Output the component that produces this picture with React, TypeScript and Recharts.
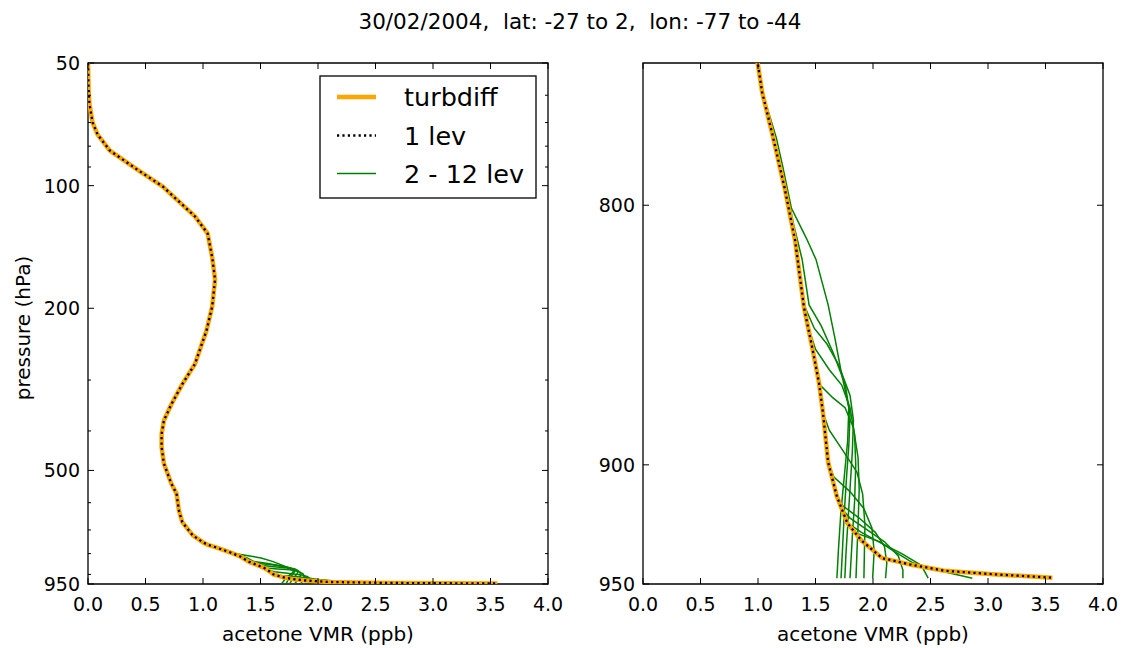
import React from "react";
import { ScatterChart, Scatter, XAxis, YAxis, ReferenceArea, Label } from "recharts";

// profiles as [acetone VMR (ppb), pressure (hPa)]
const turbdiff: [number, number][] = [
  [0.0, 50], [0.005, 58], [0.0125, 63], [0.04, 70], [0.084, 75], [0.19, 82], [0.41, 90.6],
  [0.65, 100.5], [0.93, 119], [1.04, 131], [1.08, 150], [1.105, 170], [1.08, 198], [1.03, 227],
  [0.93, 274], [0.82, 307], [0.725, 344], [0.66, 377], [0.64, 407], [0.64, 438], [0.66, 481],
  [0.725, 539], [0.77, 570], [0.79, 626], [0.82, 670], [0.91, 721], [0.997, 750], [1.036, 760],
  [1.127, 775], [1.233, 794], [1.323, 813], [1.4, 838], [1.47, 853], [1.53, 867], [1.565, 879],
  [1.61, 899], [1.686, 913], [1.776, 924], [1.897, 931.3], [2.08, 938.9], [2.32, 941.6],
  [2.62, 944.3], [3.075, 945.9], [3.56, 947.3],
];

// 1 lev run lies on top of turbdiff at this scale
const oneLev = turbdiff;

// lower part of the 2..12 lev runs, first point is where they leave turbdiff
const lev2: [number, number][] = [[1.84, 928], [1.95, 930], [2.06, 932], [2.15, 935], [2.35, 941], [2.6, 944.5], [2.864, 947.5]];
const lev3: [number, number][] = [[1.776, 924], [1.9, 928], [2.05, 932], [2.25, 937], [2.42, 942], [2.48, 947.5]];
const lev4: [number, number][] = [[1.727, 918], [1.8, 922], [1.95, 927], [2.1, 932], [2.22, 938], [2.26, 944], [2.26, 947.5]];
const lev5: [number, number][] = [[1.686, 913], [1.74, 917], [1.88, 922], [2.02, 928], [2.1, 934], [2.12, 941], [2.109, 947.5]];
const lev6: [number, number][] = [[1.61, 899], [1.66, 905], [1.8, 911], [1.92, 918], [1.99, 926], [2.01, 936], [1.997, 947.5]];
const lev7: [number, number][] = [[1.565, 879], [1.62, 886], [1.75, 895], [1.86, 903], [1.91, 912], [1.93, 925], [1.925, 937], [1.921, 947.5]];
const lev8: [number, number][] = [[1.5, 860], [1.54, 868], [1.65, 873], [1.757, 877], [1.83, 885], [1.87, 897], [1.88, 910], [1.87, 925], [1.86, 937], [1.852, 947.5]];
const lev9: [number, number][] = [[1.435, 845], [1.5, 854], [1.62, 862], [1.728, 868], [1.8, 877], [1.84, 888], [1.85, 900], [1.84, 915], [1.82, 930], [1.8, 947.5]];
const lev10: [number, number][] = [[1.353, 822], [1.41, 838], [1.49, 846], [1.6, 852], [1.7, 860], [1.8, 872], [1.83, 882], [1.82, 895], [1.8, 910], [1.78, 925], [1.765, 937], [1.755, 947.5]];
const lev11: [number, number][] = [[1.19, 786], [1.26, 797], [1.31, 807], [1.384, 820], [1.444, 837], [1.55, 845], [1.65, 855], [1.76, 868], [1.8, 880], [1.79, 892], [1.77, 905], [1.75, 920], [1.735, 935], [1.722, 947.5]];
const lev12: [number, number][] = [[1.036, 760], [1.1, 768], [1.16, 776], [1.215, 786], [1.29, 801], [1.42, 812], [1.505, 820], [1.61, 837], [1.67, 850], [1.72, 862], [1.79, 877], [1.78, 890], [1.75, 905], [1.72, 920], [1.7, 935], [1.686, 947.5]];
const levTails = [lev2, lev3, lev4, lev5, lev6, lev7, lev8, lev9, lev10, lev11, lev12];

const xTicks = [0, 0.5, 1, 1.5, 2, 2.5, 3, 3.5, 4];
const leftMajor = [50, 100, 200, 500, 950];
const leftMinor = [60, 70, 80, 90, 300, 400, 600, 700, 800, 900];
const rightMajor = [800, 900, 950];

const title = "30/02/2004,  lat: -27 to 2,  lon: -77 to -44";

const FONT = "'DejaVu Sans', sans-serif";
const H = 648;
const TOP = 63;
const BOTTOM = 584;

const toPts = (arr: [number, number][]) => arr.map(([v, p]) => ({ v, p }));
const greenLines = levTails.map((tail) =>
  toPts([...turbdiff.filter(([, p]) => p < tail[0][1]), ...tail])
);

const noDot = () => <g />;

function makeXTick() {
  return (props: any) => {
    const { x, payload } = props;
    return (
      <g>
        <line x1={x} x2={x} y1={BOTTOM} y2={BOTTOM - 6} stroke="#000" strokeWidth={1} />
        <line x1={x} x2={x} y1={TOP} y2={TOP + 6} stroke="#000" strokeWidth={1} />
        <text x={x} y={BOTTOM + 27} textAnchor="middle" fontSize={19} fontFamily={FONT} fill="#000">
          {payload.value.toFixed(1)}
        </text>
      </g>
    );
  };
}

function makeYTick(left: number, right: number, majors: number[]) {
  return (props: any) => {
    const { y, payload } = props;
    const major = majors.includes(payload.value);
    const len = major ? 6 : 3;
    return (
      <g>
        <line x1={left} x2={left + len} y1={y} y2={y} stroke="#000" strokeWidth={1} />
        <line x1={right - len} x2={right} y1={y} y2={y} stroke="#000" strokeWidth={1} />
        {major && (
          <text x={left - 8} y={y + 7} textAnchor="end" fontSize={19} fontFamily={FONT} fill="#000">
            {payload.value}
          </text>
        )}
      </g>
    );
  };
}

function Panel({
  width, yWidth, right, domain, ticks, majors, showYLabel,
}: {
  width: number; yWidth: number; right: number; domain: [number, number];
  ticks: number[]; majors: number[]; showYLabel: boolean;
}) {
  const plotL = yWidth;
  const plotR = width - right;
  const midX = (plotL + plotR) / 2;
  return (
    <ScatterChart width={width} height={H} margin={{ top: TOP, right, bottom: 0, left: 0 }}>
      <XAxis
        type="number"
        dataKey="v"
        domain={[0, 4]}
        ticks={xTicks}
        interval={0}
        allowDataOverflow
        axisLine={false}
        tickLine={false}
        height={H - BOTTOM}
        tick={makeXTick()}
        label={
          <Label
            content={() => (
              <text x={midX} y={641} textAnchor="middle" fontSize={20} fontFamily={FONT} fill="#000">
                acetone VMR (ppb)
              </text>
            )}
          />
        }
      />
      <YAxis
        type="number"
        dataKey="p"
        scale="log"
        domain={domain}
        ticks={ticks}
        interval={0}
        reversed
        allowDataOverflow
        axisLine={false}
        tickLine={false}
        width={yWidth}
        tick={makeYTick(plotL, plotR, majors)}
        label={
          showYLabel ? (
            <Label
              content={() => (
                <text
                  x={30}
                  y={328}
                  transform="rotate(-90 30 328)"
                  textAnchor="middle"
                  fontSize={20}
                  fontFamily={FONT}
                  fill="#000"
                >
                  pressure (hPa)
                </text>
              )}
            />
          ) : undefined
        }
      />
      {greenLines.map((pts, i) => (
        <Scatter
          key={i}
          data={pts}
          shape={noDot}
          line={{ stroke: "#008000", strokeWidth: 1.5 }}
          isAnimationActive={false}
        />
      ))}
      <Scatter
        data={toPts(turbdiff)}
        shape={noDot}
        line={{ stroke: "#FFA500", strokeWidth: 4.5, strokeLinejoin: "round" }}
        isAnimationActive={false}
      />
      <Scatter
        data={toPts(oneLev)}
        shape={noDot}
        line={{ stroke: "#000", strokeWidth: 2.3, strokeDasharray: "2.2 3.2" }}
        isAnimationActive={false}
      />
      <ReferenceArea
        x1={0}
        x2={4}
        y1={domain[0]}
        y2={domain[1]}
        fill="none"
        stroke="#000"
        strokeWidth={1.3}
        ifOverflow="visible"
      />
    </ScatterChart>
  );
}

const legendItems = [
  { label: "turbdiff", stroke: "#FFA500", width: 4.5, dash: undefined as string | undefined },
  { label: "1 lev", stroke: "#000", width: 2.3, dash: "2.2 3.2" },
  { label: "2 - 12 lev", stroke: "#008000", width: 1.5, dash: undefined },
];

export default function App() {
  return (
    <div
      style={{
        position: "absolute",
        left: 0,
        top: 0,
        width: 1123,
        height: H,
        background: "#fff",
        fontFamily: FONT,
      }}
    >
      <div style={{ position: "absolute", left: 0, top: 0 }}>
        <Panel
          width={580}
          yWidth={88}
          right={32}
          domain={[50, 950]}
          ticks={[...leftMajor, ...leftMinor]}
          majors={leftMajor}
          showYLabel
        />
      </div>
      <div style={{ position: "absolute", left: 580, top: 0 }}>
        <Panel
          width={543}
          yWidth={63}
          right={20}
          domain={[750, 950]}
          ticks={rightMajor}
          majors={rightMajor}
          showYLabel={false}
        />
      </div>
      <svg
        width={1123}
        height={H}
        style={{ position: "absolute", left: 0, top: 0, pointerEvents: "none" }}
      >
        <text
          x={580}
          y={29}
          textAnchor="middle"
          fontSize={21.5}
          fontFamily={FONT}
          fill="#000"
          style={{ whiteSpace: "pre" }}
        >
          {title}
        </text>
        <rect x={320} y={76} width={216} height={122} fill="#fff" stroke="#000" strokeWidth={1.3} />
        {legendItems.map((it, i) => {
          const cy = [97, 135.5, 173.5][i];
          return (
            <g key={it.label}>
              <line
                x1={337}
                x2={376}
                y1={cy}
                y2={cy}
                stroke={it.stroke}
                strokeWidth={it.width}
                strokeDasharray={it.dash}
              />
              <text x={404} y={cy + 9} fontSize={25.5} fontFamily={FONT} fill="#000">
                {it.label}
              </text>
            </g>
          );
        })}
      </svg>
    </div>
  );
}
